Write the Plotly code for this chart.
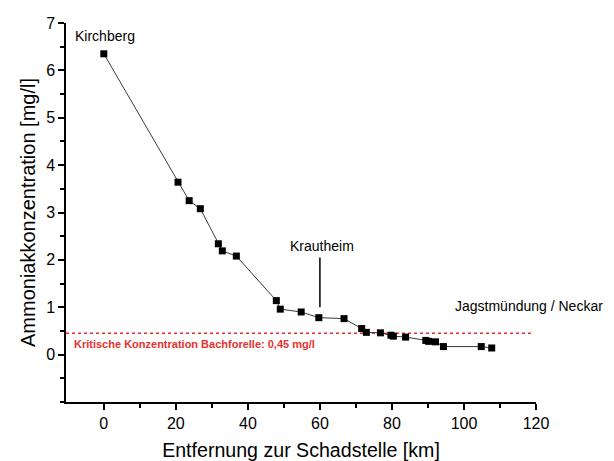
import plotly.graph_objects as go

# Entfernung zur Schadstelle [km] und gemessene Ammoniakkonzentration [mg/l]
entfernung_km = [0.0, 20.6, 23.7, 26.8, 31.8, 32.9, 36.8, 47.9, 49.0, 54.8, 59.7,
                 66.7, 71.6, 72.9, 76.8, 79.7, 80.4, 83.8, 89.4, 90.2, 92.1,
                 94.3, 104.8, 107.7]
ammoniak_mgl = [6.35, 3.64, 3.25, 3.08, 2.34, 2.19, 2.08, 1.14, 0.96, 0.90, 0.78,
                0.76, 0.55, 0.47, 0.46, 0.41, 0.39, 0.37, 0.30, 0.28, 0.27,
                0.17, 0.17, 0.14]

grenzwert_mgl = 0.45
y_ticks = [0, 1, 2, 3, 4, 5, 6, 7]
x_ticks = [0, 20, 40, 60, 80, 100, 120]
x_minor_ticks = [10, 30, 50, 70, 90, 110]

FONT = "Liberation Sans, Arial, sans-serif"

fig = go.Figure()

# kritischer Grenzwert Bachforelle
fig.add_trace(go.Scatter(
    x=[-10.5, 119.0], y=[grenzwert_mgl, grenzwert_mgl],
    mode="lines",
    line=dict(color="#e8312f", width=1.5, dash="3px,3px"),
    hoverinfo="skip", showlegend=False,
))

# Messreihe
fig.add_trace(go.Scatter(
    x=entfernung_km, y=ammoniak_mgl,
    mode="lines+markers",
    line=dict(color="#3a3a3a", width=1),
    marker=dict(symbol="square", size=7, color="black"),
    showlegend=False,
))

axis_common = dict(
    showline=True, linecolor="black", linewidth=1.5,
    ticks="outside", ticklen=6, tickwidth=1.5, tickcolor="black",
    showgrid=False, zeroline=False, mirror=False, automargin=False,
    tickfont=dict(family=FONT, size=16, color="black"),
)

fig.update_layout(
    width=614, height=461,
    margin=dict(l=66, r=78, t=23, b=59),
    paper_bgcolor="white", plot_bgcolor="white",
    font=dict(family=FONT, color="black"),
    xaxis=dict(
        range=[-10.5, 120], tickmode="array", tickvals=x_ticks,
        minor=dict(ticks="outside", tickmode="array", tickvals=x_minor_ticks,
                   ticklen=4, tickwidth=1.5, tickcolor="black"),
        title=dict(text="Entfernung zur Schadstelle [km]",
                   font=dict(family=FONT, size=19.6), standoff=14),
        **axis_common,
    ),
    yaxis=dict(
        range=[-1, 7], tickmode="array", tickvals=y_ticks,
        minor=dict(ticks="outside", tickmode="linear", tick0=0, dtick=0.5,
                   ticklen=4, tickwidth=1.5, tickcolor="black"),
        title=dict(text="Ammoniakkonzentration [mg/l]",
                   font=dict(family=FONT, size=20), standoff=5),
        **axis_common,
    ),
    annotations=[
        dict(x=-8.5, y=6.73, text="Kirchberg", showarrow=False,
             xanchor="left", yanchor="middle",
             font=dict(family=FONT, size=14, color="black")),
        dict(x=60.6, y=2.30, text="Krautheim", showarrow=False,
             xanchor="center", yanchor="middle",
             font=dict(family=FONT, size=14, color="black")),
        dict(x=97.0, y=1.02, text="Jagstmündung / Neckar", showarrow=False,
             xanchor="left", yanchor="middle",
             font=dict(family=FONT, size=14, color="black")),
        dict(x=-8.8, y=0.22,
             text="<b>Kritische Konzentration Bachforelle: 0,45 mg/l</b>",
             showarrow=False, xanchor="left", yanchor="middle",
             font=dict(family=FONT, size=11, color="#e8312f")),
    ],
    shapes=[
        dict(type="line", xref="x", yref="y", x0=60, x1=60, y0=1.0, y1=2.05,
             line=dict(color="black", width=1.5)),
    ],
)

fig.write_html("out.html")
